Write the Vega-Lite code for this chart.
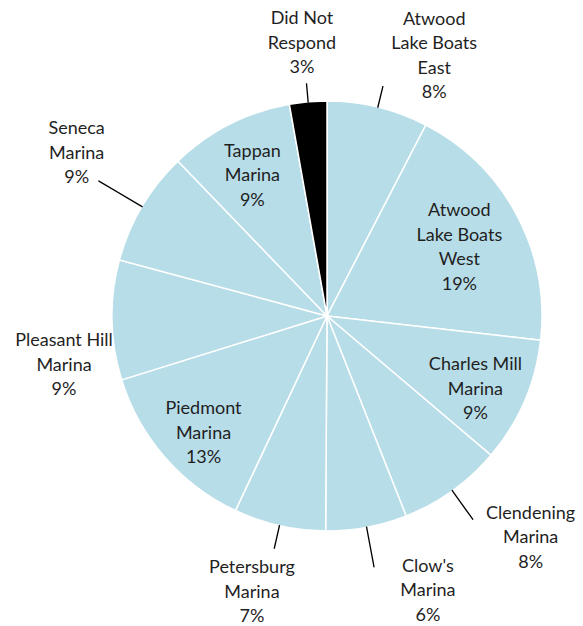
{
  "$schema": "https://vega.github.io/schema/vega-lite/v6.json",
  "width": 430,
  "height": 430,
  "autosize": {"type": "none"},
  "padding": {"left": 112, "top": 101, "right": 41, "bottom": 95},
  "background": "white",
  "config": {"view": {"stroke": null}},
  "data": {
    "values": [
      {"name": "Atwood\nLake Boats\nEast", "value": 7.6},
      {"name": "Atwood\nLake Boats\nWest", "value": 19.2},
      {"name": "Charles Mill\nMarina", "value": 9.4},
      {"name": "Clendening\nMarina", "value": 7.8},
      {"name": "Clow's\nMarina", "value": 6.1},
      {"name": "Petersburg\nMarina", "value": 6.9},
      {"name": "Piedmont\nMarina", "value": 13.2},
      {"name": "Pleasant Hill\nMarina", "value": 9.0},
      {"name": "Seneca\nMarina", "value": 8.6},
      {"name": "Tappan\nMarina", "value": 9.4},
      {"name": "Did Not\nRespond", "value": 2.8}
    ]
  },
  "transform": [
    {"window": [{"op": "row_number", "as": "idx"}]},
    {"stack": "value", "groupby": [], "sort": [{"field": "idx", "order": "ascending"}], "as": ["start", "end"]},
    {"calculate": "(datum.start + datum.end) / 2", "as": "mid"},
    {"calculate": "datum.mid + 0.002", "as": "mid2"},
    {"calculate": "datum.name + '\\n' + format(datum.value, '.0f') + '%'", "as": "label"}
  ],
  "layer": [
    {
      "mark": {"type": "arc", "radius": 215, "stroke": "white", "strokeWidth": 1.5},
      "encoding": {
        "theta": {"field": "start", "type": "quantitative", "stack": null, "scale": {"domain": [0, 100]}},
        "theta2": {"field": "end"},
        "fill": {"condition": {"test": "datum.name === 'Did Not\\nRespond'", "value": "#000000"}, "value": "#b7dde8"}
      }
    },
    {
      "transform": [{"filter": {"field": "name", "equal": "Did Not\nRespond"}}],
      "mark": {"type": "arc", "radius": 233, "radius2": 215, "filled": false, "stroke": "#000000", "strokeWidth": 1.3},
      "encoding": {
        "theta": {"field": "mid", "type": "quantitative", "stack": null, "scale": {"domain": [0, 100]}},
        "theta2": {"field": "mid2"}
      }
    },
    {
      "transform": [{"filter": {"field": "name", "equal": "Atwood\nLake Boats\nEast"}}],
      "mark": {"type": "arc", "radius": 236, "radius2": 215, "filled": false, "stroke": "#000000", "strokeWidth": 1.3},
      "encoding": {
        "theta": {"field": "mid", "type": "quantitative", "stack": null, "scale": {"domain": [0, 100]}},
        "theta2": {"field": "mid2"}
      }
    },
    {
      "transform": [{"filter": {"field": "name", "equal": "Clendening\nMarina"}}],
      "mark": {"type": "arc", "radius": 250, "radius2": 215, "filled": false, "stroke": "#000000", "strokeWidth": 1.3},
      "encoding": {
        "theta": {"field": "mid", "type": "quantitative", "stack": null, "scale": {"domain": [0, 100]}},
        "theta2": {"field": "mid2"}
      }
    },
    {
      "transform": [{"filter": {"field": "name", "equal": "Clow's\nMarina"}}],
      "mark": {"type": "arc", "radius": 255, "radius2": 215, "filled": false, "stroke": "#000000", "strokeWidth": 1.3},
      "encoding": {
        "theta": {"field": "mid", "type": "quantitative", "stack": null, "scale": {"domain": [0, 100]}},
        "theta2": {"field": "mid2"}
      }
    },
    {
      "transform": [{"filter": {"field": "name", "equal": "Petersburg\nMarina"}}],
      "mark": {"type": "arc", "radius": 238, "radius2": 215, "filled": false, "stroke": "#000000", "strokeWidth": 1.3},
      "encoding": {
        "theta": {"field": "mid", "type": "quantitative", "stack": null, "scale": {"domain": [0, 100]}},
        "theta2": {"field": "mid2"}
      }
    },
    {
      "transform": [{"filter": {"field": "name", "equal": "Seneca\nMarina"}}],
      "mark": {"type": "arc", "radius": 265, "radius2": 215, "filled": false, "stroke": "#000000", "strokeWidth": 1.3},
      "encoding": {
        "theta": {"field": "mid", "type": "quantitative", "stack": null, "scale": {"domain": [0, 100]}},
        "theta2": {"field": "mid2"}
      }
    },
    {
      "transform": [{"filter": {"field": "name", "equal": "Atwood\nLake Boats\nEast"}}],
      "mark": {"type": "text", "radius": 280, "dx": 41, "dy": -24, "font": "Lato", "fontSize": 18, "lineHeight": 24.5, "lineBreak": "\n", "align": "center", "baseline": "middle", "color": "#1f1f1f"},
      "encoding": {"theta": {"field": "mid", "type": "quantitative", "stack": null, "scale": {"domain": [0, 100]}}, "text": {"field": "label"}}
    },
    {
      "transform": [{"filter": {"field": "name", "equal": "Atwood\nLake Boats\nWest"}}],
      "mark": {"type": "text", "radius": 150, "dx": 0, "dy": -34, "font": "Lato", "fontSize": 18, "lineHeight": 24.5, "lineBreak": "\n", "align": "center", "baseline": "middle", "color": "#1f1f1f"},
      "encoding": {"theta": {"field": "mid", "type": "quantitative", "stack": null, "scale": {"domain": [0, 100]}}, "text": {"field": "label"}}
    },
    {
      "transform": [{"filter": {"field": "name", "equal": "Charles Mill\nMarina"}}],
      "mark": {"type": "text", "radius": 165, "dx": -3, "dy": -16.5, "font": "Lato", "fontSize": 18, "lineHeight": 24.5, "lineBreak": "\n", "align": "center", "baseline": "middle", "color": "#1f1f1f"},
      "encoding": {"theta": {"field": "mid", "type": "quantitative", "stack": null, "scale": {"domain": [0, 100]}}, "text": {"field": "label"}}
    },
    {
      "transform": [{"filter": {"field": "name", "equal": "Clendening\nMarina"}}],
      "mark": {"type": "text", "radius": 298, "dx": 30, "dy": -44.5, "font": "Lato", "fontSize": 18, "lineHeight": 24.5, "lineBreak": "\n", "align": "center", "baseline": "middle", "color": "#1f1f1f"},
      "encoding": {"theta": {"field": "mid", "type": "quantitative", "stack": null, "scale": {"domain": [0, 100]}}, "text": {"field": "label"}}
    },
    {
      "transform": [{"filter": {"field": "name", "equal": "Clow's\nMarina"}}],
      "mark": {"type": "text", "radius": 287, "dx": 48, "dy": -31.5, "font": "Lato", "fontSize": 18, "lineHeight": 24.5, "lineBreak": "\n", "align": "center", "baseline": "middle", "color": "#1f1f1f"},
      "encoding": {"theta": {"field": "mid", "type": "quantitative", "stack": null, "scale": {"domain": [0, 100]}}, "text": {"field": "label"}}
    },
    {
      "transform": [{"filter": {"field": "name", "equal": "Petersburg\nMarina"}}],
      "mark": {"type": "text", "radius": 285, "dx": -12, "dy": -25.5, "font": "Lato", "fontSize": 18, "lineHeight": 24.5, "lineBreak": "\n", "align": "center", "baseline": "middle", "color": "#1f1f1f"},
      "encoding": {"theta": {"field": "mid", "type": "quantitative", "stack": null, "scale": {"domain": [0, 100]}}, "text": {"field": "label"}}
    },
    {
      "transform": [{"filter": {"field": "name", "equal": "Piedmont\nMarina"}}],
      "mark": {"type": "text", "radius": 169, "dx": 4, "dy": -17.5, "font": "Lato", "fontSize": 18, "lineHeight": 24.5, "lineBreak": "\n", "align": "center", "baseline": "middle", "color": "#1f1f1f"},
      "encoding": {"theta": {"field": "mid", "type": "quantitative", "stack": null, "scale": {"domain": [0, 100]}}, "text": {"field": "label"}}
    },
    {
      "transform": [{"filter": {"field": "name", "equal": "Pleasant Hill\nMarina"}}],
      "mark": {"type": "text", "radius": 264, "dx": 1, "dy": 20.5, "font": "Lato", "fontSize": 18, "lineHeight": 24.5, "lineBreak": "\n", "align": "center", "baseline": "middle", "color": "#1f1f1f"},
      "encoding": {"theta": {"field": "mid", "type": "quantitative", "stack": null, "scale": {"domain": [0, 100]}}, "text": {"field": "label"}}
    },
    {
      "transform": [{"filter": {"field": "name", "equal": "Seneca\nMarina"}}],
      "mark": {"type": "text", "radius": 299, "dx": 7, "dy": -34.5, "font": "Lato", "fontSize": 18, "lineHeight": 24.5, "lineBreak": "\n", "align": "center", "baseline": "middle", "color": "#1f1f1f"},
      "encoding": {"theta": {"field": "mid", "type": "quantitative", "stack": null, "scale": {"domain": [0, 100]}}, "text": {"field": "label"}}
    },
    {
      "transform": [{"filter": {"field": "name", "equal": "Tappan\nMarina"}}],
      "mark": {"type": "text", "radius": 160, "dx": -2, "dy": -21.5, "font": "Lato", "fontSize": 18, "lineHeight": 24.5, "lineBreak": "\n", "align": "center", "baseline": "middle", "color": "#1f1f1f"},
      "encoding": {"theta": {"field": "mid", "type": "quantitative", "stack": null, "scale": {"domain": [0, 100]}}, "text": {"field": "label"}}
    },
    {
      "transform": [{"filter": {"field": "name", "equal": "Did Not\nRespond"}}],
      "mark": {"type": "text", "radius": 274, "dx": -1, "dy": -24, "font": "Lato", "fontSize": 18, "lineHeight": 24.5, "lineBreak": "\n", "align": "center", "baseline": "middle", "color": "#1f1f1f"},
      "encoding": {"theta": {"field": "mid", "type": "quantitative", "stack": null, "scale": {"domain": [0, 100]}}, "text": {"field": "label"}}
    }
  ]
}
